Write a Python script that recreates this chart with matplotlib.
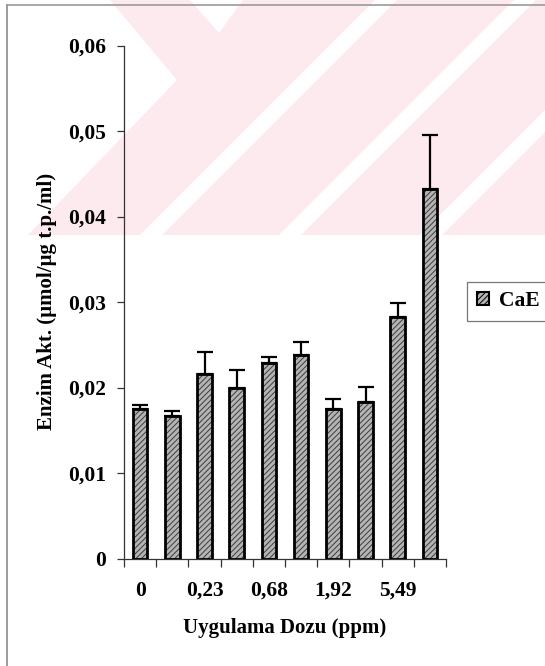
import matplotlib
matplotlib.use("Agg")
import matplotlib.pyplot as plt
from matplotlib.patches import Polygon, Patch
from matplotlib.lines import Line2D

# Enzyme activity per application dose (two bars per dose level)
dose_labels = ["0", "", "0,23", "", "0,68", "", "1,92", "", "5,49", ""]
activity = [0.01745, 0.0167, 0.0216, 0.0200, 0.0229, 0.0238, 0.0175, 0.0183, 0.0282, 0.0432]
activity_err = [0.0005, 0.0005, 0.0025, 0.0020, 0.0007, 0.0015, 0.0012, 0.0018, 0.0017, 0.0063]
y_ticks = [0, 0.01, 0.02, 0.03, 0.04, 0.05, 0.06]
y_tick_labels = ["0", "0,01", "0,02", "0,03", "0,04", "0,05", "0,06"]
series_name = "CaE"

plt.rcParams["font.family"] = ["Liberation Serif", "DejaVu Serif"]
plt.rcParams["font.weight"] = "bold"
plt.rcParams["hatch.linewidth"] = 0.7

W, H = 545, 666
fig = plt.figure(figsize=(W / 100, H / 100), dpi=100)
fig.patch.set_facecolor("white")

# Background layer in pixel coordinates: faint pink emblem and page frame
bg = fig.add_axes([0, 0, 1, 1], zorder=-5)
bg.set_xlim(0, W)
bg.set_ylim(H, 0)
bg.axis("off")
pink = "#fdeaee"
bg.add_patch(Polygon([(110, 0), (545, 0), (545, 235), (28, 235), (177, 80)],
                     closed=True, facecolor=pink, edgecolor="none"))
bg.add_patch(Polygon([(190, 0), (243, 0), (219, 33)], closed=True,
                     facecolor="white", edgecolor="none"))
for x0 in (151, 290, 431):
    half = 11
    bg.add_patch(Polygon([(x0 - half, 235), (x0 + half, 235),
                          (x0 + half + 240, -5), (x0 - half + 240, -5)],
                         closed=True, facecolor="white", edgecolor="none"))
bg.add_line(Line2D([7, 7], [5, H], color="#8a8a8a", lw=1.2))
bg.add_line(Line2D([7, W], [5, 5], color="#9a9a9a", lw=1.2))

# Main chart
ax = fig.add_axes([124 / W, 1 - 558.5 / H, 322 / W, 513 / H])
ax.patch.set_alpha(0)
x = list(range(len(activity)))

ax.bar(x, activity, width=0.45, color="#b4b4b4", edgecolor="#3c3c3c",
       hatch="//////", linewidth=0, zorder=2)
ax.bar(x, activity, width=0.45, fill=False, edgecolor="black",
       linewidth=2.0, zorder=3)
ax.errorbar(x, activity, yerr=[[0] * len(activity), activity_err], fmt="none",
            ecolor="black", elinewidth=1.6, capsize=5.5, capthick=1.6, zorder=4)

ax.set_xlim(-0.5, len(activity) - 0.5)
ax.set_ylim(0, 0.06)
for s in ("top", "right"):
    ax.spines[s].set_visible(False)
for s in ("left", "bottom"):
    ax.spines[s].set_color("#333333")
    ax.spines[s].set_linewidth(0.9)

ax.set_yticks(y_ticks)
ax.set_yticklabels(y_tick_labels, fontsize=15.5, fontweight="bold")
ax.tick_params(axis="y", direction="out", length=5, width=0.9, pad=8, colors="#333333",
               labelcolor="black")

# category boundaries carry tick marks; dose names sit under bar centres
ax.set_xticks([i - 0.5 for i in range(len(activity) + 1)])
ax.set_xticklabels([""] * (len(activity) + 1))
ax.tick_params(axis="x", which="major", direction="out", length=6, width=0.9,
               colors="#333333")
ax.set_xticks(x, minor=True)
ax.set_xticklabels(dose_labels, minor=True, fontsize=15.5, fontweight="bold")
ax.tick_params(axis="x", which="minor", length=0, pad=16)

fig.text(47 / W, 1 - 301 / H, "Enzim Akt. (µmol/µg t.p./ml)", rotation=90,
         ha="center", va="center", fontsize=15, fontweight="bold")
fig.text(285 / W, 1 - 628 / H, "Uygulama Dozu (ppm)", ha="center", va="center",
         fontsize=15, fontweight="bold")

handle = Patch(facecolor="#b4b4b4", edgecolor="black", hatch="//////", linewidth=1.5)
leg = fig.legend([handle], [series_name], loc="center left",
                 bbox_to_anchor=(467 / W, 1 - 301.5 / H), frameon=True,
                 fancybox=False, shadow=False, borderpad=0.45, handlelength=0.55,
                 handleheight=0.55, handletextpad=0.5, borderaxespad=0,
                 prop={"size": 15.5, "weight": "bold"})
leg.get_frame().set_edgecolor("#555555")
leg.get_frame().set_linewidth(0.9)

fig.savefig("out.png", dpi=100, facecolor="white")
